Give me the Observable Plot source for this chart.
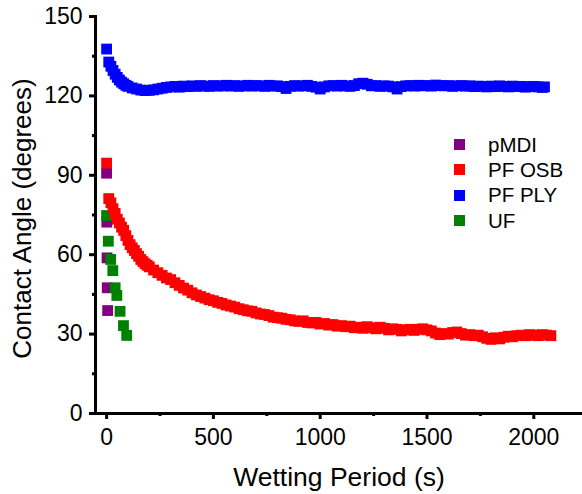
<!DOCTYPE html>
<html><head><meta charset="utf-8">
<script src="https://cdn.jsdelivr.net/npm/d3@7"></script>
<script src="https://cdn.jsdelivr.net/npm/@observablehq/plot@0.6"></script>
<style>
body{margin:0;background:#fff;}
#wrap{position:relative;width:582px;height:494px;font-family:"Liberation Sans",Arial,sans-serif;}
#legend{position:absolute;left:453.5px;top:132px;}
.row{display:flex;align-items:center;height:25.3px;}
.sw{width:11px;height:11px;margin-right:23.5px;}
.lab{font-size:20.5px;color:#000;}
</style></head><body><div id="wrap"></div>
<script>
const seriesNames = ["pMDI", "PF OSB", "PF PLY", "UF"];
const seriesColors = ["#800080", "#ff0000", "#0000ff", "#008000"];

const pmdiTime = [0, 1, 2, 3, 5];
const pmdiAngle = [90.8, 72.3, 58.8, 47.5, 38.9];

const ufTime = [0, 8, 19, 29, 40, 48, 63, 79, 94];
const ufAngle = [74.8, 65.1, 58.2, 54.0, 47.5, 44.6, 38.6, 33.2, 29.5];

const osbPairs = [[0,94.6],[10,81.2],[20,79.6],[30,77.4],[40,75.6],[50,73.4],[60,72.0],[70,70.4],[80,69.2],[90,67.2],[100,65.4],[110,63.8],[120,62.6],[130,61.6],[140,60.4],[150,59.4],[160,58.2],[170,57.4],[180,56.6],[190,56.0],[200,55.4],[220,54.2],[240,53.2],[260,52.2],[280,51.2],[300,50.6],[320,49.4],[340,48.4],[360,47.4],[380,46.6],[400,45.6],[420,44.8],[440,44.2],[460,43.6],[480,43.0],[500,42.6],[520,42.0],[540,41.6],[560,41.0],[580,40.6],[600,40.2],[620,39.6],[640,39.2],[660,38.8],[680,38.6],[700,38.0],[720,37.6],[740,37.4],[760,37.0],[780,36.4],[800,36.2],[820,36.0],[840,35.6],[860,35.4],[880,35.0],[900,34.8],[920,35.0],[940,34.4],[960,34.2],[980,34.4],[1000,33.8],[1020,34.0],[1040,33.4],[1060,33.6],[1080,33.0],[1100,33.2],[1120,32.8],[1140,33.0],[1160,32.4],[1180,32.6],[1200,32.2],[1220,32.8],[1240,32.4],[1260,32.0],[1280,32.6],[1300,32.2],[1320,31.6],[1340,32.0],[1360,31.8],[1380,31.2],[1400,31.6],[1420,31.8],[1440,31.4],[1460,31.8],[1480,32.0],[1500,31.6],[1520,31.2],[1540,30.4],[1560,29.8],[1580,30.2],[1600,30.0],[1620,30.6],[1640,30.8],[1660,30.2],[1680,29.6],[1700,29.8],[1720,29.4],[1740,29.6],[1760,29.0],[1780,28.4],[1800,28.0],[1820,28.6],[1840,28.2],[1860,28.8],[1880,29.2],[1900,29.0],[1920,29.4],[1940,29.6],[1960,29.4],[1980,29.8],[2000,29.6],[2020,29.4],[2040,29.8],[2060,29.6],[2080,29.4]];

const plyPairs = [[0,137.7],[10,132.8],[20,131.2],[30,129.6],[40,128.2],[50,127.0],[60,126.0],[70,125.2],[80,124.6],[90,124.0],[100,123.6],[120,123.0],[140,122.6],[160,122.2],[180,122.0],[200,122.1],[220,122.3],[240,122.6],[260,122.9],[280,123.2],[300,123.4],[320,123.6],[340,123.3],[360,123.7],[380,123.5],[400,123.8],[420,123.6],[440,123.9],[460,123.7],[480,123.6],[500,123.9],[520,123.7],[540,123.8],[560,124.0],[580,123.7],[600,123.9],[620,123.6],[640,123.8],[660,124.0],[680,123.7],[700,123.9],[720,123.8],[740,123.6],[760,124.0],[780,123.7],[800,123.8],[820,123.5],[840,122.8],[860,123.6],[880,123.9],[900,123.7],[920,123.8],[940,124.0],[960,123.6],[980,123.3],[1000,122.6],[1020,123.4],[1040,123.8],[1060,123.9],[1080,123.7],[1100,124.0],[1120,123.8],[1140,123.6],[1160,123.9],[1180,124.6],[1200,124.8],[1220,124.4],[1240,123.8],[1260,123.9],[1280,123.6],[1300,123.8],[1320,123.7],[1340,123.4],[1360,122.6],[1380,123.5],[1400,123.8],[1420,123.9],[1440,123.7],[1460,124.0],[1480,123.8],[1500,123.9],[1520,123.7],[1540,124.1],[1560,123.9],[1580,123.8],[1600,123.9],[1620,123.6],[1640,123.8],[1660,123.9],[1680,123.7],[1700,123.8],[1720,123.5],[1740,123.7],[1760,123.6],[1780,123.4],[1800,123.7],[1820,123.5],[1840,123.8],[1860,123.6],[1880,123.4],[1900,123.7],[1920,123.5],[1940,123.6],[1960,123.3],[1980,123.5],[2000,123.6],[2020,123.4],[2040,123.2],[2050,123.4]];

const xMajor = [0, 500, 1000, 1500, 2000];
const xMinor = [250, 750, 1250, 1750];
const yMajor = [0, 30, 60, 90, 120, 150];
const yMinor = [15, 45, 75, 105, 135];
const xTitle = "Wetting Period (s)";
const yTitle = "Contact Angle (degrees)";

const rows = [];
pmdiTime.forEach((t, i) => rows.push({series: "pMDI", time: t, angle: pmdiAngle[i]}));
ufTime.forEach((t, i) => rows.push({series: "UF", time: t, angle: ufAngle[i]}));
osbPairs.forEach(([t, v]) => rows.push({series: "PF OSB", time: t, angle: v}));
plyPairs.forEach(([t, v]) => rows.push({series: "PF PLY", time: t, angle: v}));

const font = "'Liberation Sans', Arial, sans-serif";
const fmt = d3.format("d");
const chart = Plot.plot({
  width: 582, height: 494,
  marginLeft: 95, marginRight: 0, marginTop: 16, marginBottom: 81,
  style: {fontFamily: font, fontSize: "23px", color: "#000", background: "#fff", overflow: "visible"},
  x: {domain: [-52, 2228], label: null},
  y: {domain: [0, 150], label: null},
  color: {domain: seriesNames, range: seriesColors},
  marks: [
    Plot.dot(rows, {x: "time", y: "angle", fill: "series", symbol: "square", r: 6.1}),
    Plot.axisX(xMinor, {tickSize: 3, strokeWidth: 3, tickFormat: () => "", label: null}),
    Plot.axisY(yMinor, {tickSize: 3, strokeWidth: 3, tickFormat: () => "", label: null}),
    Plot.axisX(xMajor, {tickSize: 6, tickPadding: 9, strokeWidth: 3, fontSize: 23, tickFormat: fmt, label: null}),
    Plot.axisY(yMajor, {tickSize: 6, tickPadding: 7, strokeWidth: 3, fontSize: 23, tickFormat: fmt, label: null}),
    Plot.frame({anchor: "left", strokeWidth: 3, strokeLinecap: "square"}),
    Plot.frame({anchor: "bottom", strokeWidth: 3, strokeLinecap: "square"}),
    Plot.text([xTitle], {frameAnchor: "bottom", dy: 64, lineAnchor: "middle", textAnchor: "middle", fontSize: 26.5}),
    Plot.text([yTitle], {frameAnchor: "left", dx: -72.5, dy: 3.5, rotate: -90, lineAnchor: "middle", textAnchor: "middle", fontSize: 26})
  ]
});
const wrap = document.getElementById("wrap");
wrap.appendChild(chart);
const legend = document.createElement("div");
legend.id = "legend";
seriesNames.forEach((name, i) => {
  const row = document.createElement("div");
  row.className = "row";
  const sw = document.createElement("div");
  sw.className = "sw";
  sw.style.background = seriesColors[i];
  const lab = document.createElement("span");
  lab.className = "lab";
  lab.textContent = name;
  row.appendChild(sw); row.appendChild(lab);
  legend.appendChild(row);
});
wrap.appendChild(legend);
</script></body></html>
